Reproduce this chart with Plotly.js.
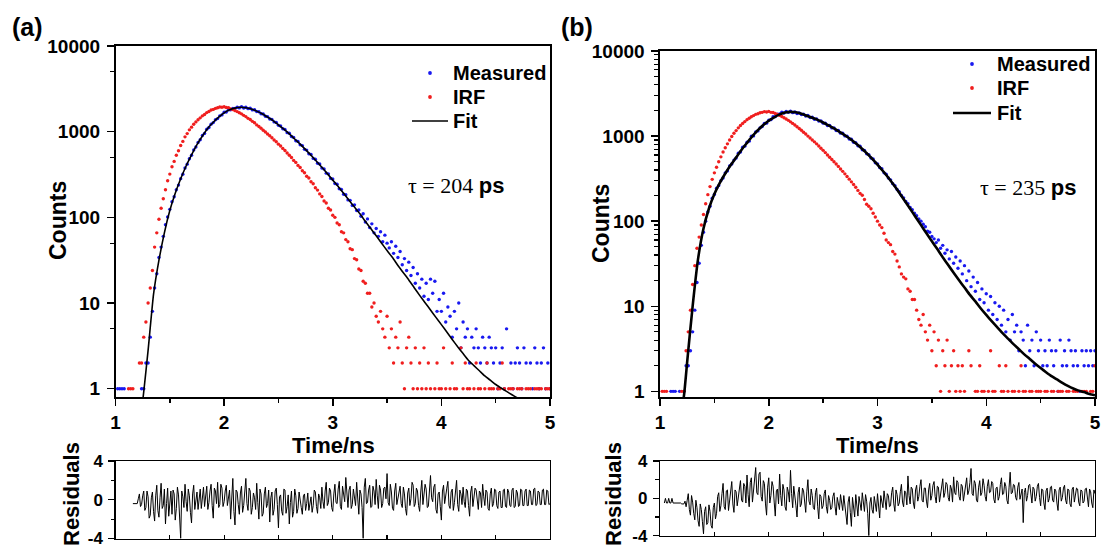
<!DOCTYPE html>
<html><head><meta charset="utf-8">
<script src="https://cdn.plot.ly/plotly-3.0.1.min.js"></script>
<style>html,body{margin:0;padding:0;background:#fff}#chart{width:1104px;height:548px}</style>
</head><body><div id="chart"></div>
<script>
// ---------- Panel (a) data (counts per 0.02 ns channel, starting at 1.00 ns) ----------
const measuredA = [
null,1,1,1,1,null,null,null,null,null,
null,null,1,1,2,2,4,8,15,22,
34,45,60,82,101,124,152,174,210,238,
283,318,377,418,484,530,612,662,748,805,
902,955,1068,1120,1225,1276,1380,1422,1530,1570,
1685,1698,1795,1802,1870,1862,1935,1896,1960,1890,
1930,1858,1880,1795,1802,1715,1712,1622,1610,1512,
1498,1405,1392,1300,1278,1185,1165,1080,1060,975,
958,878,858,785,770,702,688,622,610,552,
542,488,476,428,420,376,368,328,322,285,
280,248,244,216,212,186,184,160,158,138,
140,120,122,103,110,88,96,76,84,66,
74,60,68,52,62,50,44,52,38,46,
34,40,28,33,24,30,21,26,17,22,
15,19,12,17,11,19,13,18,8,11,
8,13,6,9,7,4,8,5,10,3,
6,4,5,2,4,3,5,3,2,4,
3,2,4,3,2,3,1,2,3,1,
5,null,2,1,2,3,2,1,3,2,
null,2,1,3,2,1,2,3,1,2,1];
const irfA = [
null,null,null,null,null,null,1,1,1,null,
null,2,2,4,6,10,15,24,45,66,
95,128,165,210,268,320,390,450,530,600,
690,770,870,950,1050,1130,1220,1300,1380,1450,
1530,1590,1670,1720,1790,1820,1870,1900,1940,1925,
1955,1915,1900,1845,1815,1760,1715,1660,1615,1550,
1500,1430,1385,1320,1270,1200,1150,1095,1040,990,
940,895,848,800,762,715,680,638,602,565,
530,500,462,438,404,382,350,332,302,288,
260,247,222,208,188,175,155,147,128,122,
106,100,86,82,68,66,55,52,43,42,
33,32,25,24,18,17,13,13,9,10,
7,6,8,5,4,7,3,5,2,4,
3,6,2,1,3,4,2,1,3,1,
2,1,3,1,2,1,null,1,2,1,
1,3,1,null,1,2,1,1,null,3,
1,2,1,1,null,1,2,1,1,null,
1,2,1,1,1,null,1,1,2,1,
null,1,1,1,null,1,1,1,null,1,
1,1,null,1,1,1,1,null,1,1,1];
const fitTimeA = [1.25,1.263,1.30,1.35,1.40,1.45,1.50,1.55,1.60,1.65,1.70,1.75,1.80,1.85,1.90,1.95,
2.00,2.05,2.10,2.15,2.20,2.25,2.30,2.35,2.40,2.45,2.50,2.55,2.60,2.65,2.70,2.75,2.80,2.85,2.90,2.95,
3.00,3.05,3.10,3.15,3.20,3.25,3.30,3.35,3.40,3.45,3.50,3.55,3.60,3.65,3.70,3.75,3.80,3.85,3.90,3.95,
4.00,4.05,4.10,4.15,4.20,4.25,4.30,4.35,4.40,4.45,4.50,4.55,4.60,4.65,4.70,4.75];
const fitA = [0.71,1.0,2.8,12.6,31.6,66,120,191,282,398,537,708,891,1096,1288,1479,
1660,1799,1884,1928,1905,1841,1738,1622,1479,1349,1202,1072,944,822,716,617,531,452,385,324,
272,229,191,158,132,110,90,74,61,50,41,34,27.5,22.6,18.6,15.1,12.3,10.1,8.3,6.8,
5.6,4.6,3.76,3.09,2.57,2.14,1.86,1.62,1.41,1.26,1.12,1.02,0.93,0.85,0.78,0.71];
// residuals (a): 0.01 ns channels starting at 1.16 ns
const residualsA = [
-0.4,-0.4,-0.4,-0.4,-0.4,0.1,0.6,-0.7,-0.5,0.4,0.9,-1.1,-0.8,0.9,0.3,-1.9,-1.6,0.2,0.8,-1.2,
-2.2,0.4,1.5,-1.1,-1.8,0.2,1.7,-0.9,-0.6,1.1,-2.5,-0.4,1.2,-1.7,-0.3,0.9,-1.5,1.0,0.6,-2.1,
-0.9,1.3,0.5,-1.6,-4.0,0.9,0.3,-0.8,1.6,-0.2,-1.2,1.1,0.4,-1.3,-2.4,0.6,1.5,-1.0,-0.2,0.8,
-1.0,0.5,1.1,-0.9,0.2,1.3,-0.7,0.6,1.4,-1.0,-0.3,0.9,1.6,-0.6,-1.9,1.2,0.9,-0.4,1.8,-0.8,
-0.5,1.6,1.2,-0.7,-0.2,0.9,1.5,-0.6,0.3,1.0,-2.0,0.4,2.2,-1.2,-2.6,1.0,0.8,-0.5,-1.5,0.7,
1.4,-1.3,-0.6,0.8,2.2,-0.4,-1.1,1.2,0.9,-1.5,-0.8,0.7,0.2,-1.0,1.7,-0.3,-2.0,1.1,0.6,-1.7,
-1.4,0.6,1.3,-0.8,-0.4,1.0,-2.3,0.2,0.8,-1.6,-1.0,0.9,1.2,-0.5,-2.9,0.3,0.5,-1.2,-1.6,1.1,
1.0,-1.4,-0.7,0.5,-2.5,-0.3,0.9,-1.8,-1.2,1.1,0.4,-1.4,-0.9,0.8,0.2,-0.8,-1.5,0.4,0.6,-1.1,
-0.4,0.7,-1.1,-0.2,0.3,-1.3,-0.6,1.0,0.8,-0.7,-1.4,0.6,0.2,-0.9,1.3,-0.2,-0.9,0.9,1.8,-0.6,
-0.3,1.2,0.9,-0.8,-1.2,0.6,1.6,-0.3,-0.4,1.1,1.9,-0.7,-1.0,1.4,0.7,-0.2,2.3,0.3,-0.8,1.0,
1.4,-0.9,-0.5,1.1,0.4,-0.6,1.8,0.2,-1.5,1.0,0.6,-0.8,-4.0,1.3,2.2,-0.4,-0.3,1.0,1.5,-0.8,
-0.7,1.4,0.9,-0.5,2.1,0.4,-0.9,1.5,1.0,-0.8,-0.4,1.2,1.3,0.1,2.7,-0.3,-0.6,1.6,0.8,-0.9,
-1.1,0.9,1.7,-0.5,0.2,1.1,1.4,-0.4,-0.8,1.3,0.6,-0.9,-1.6,0.7,1.2,-0.6,0.1,1.8,1.5,-0.7,
-0.4,1.2,0.9,-0.6,-1.2,0.8,2.0,-0.5,0.3,1.6,1.1,-0.8,-0.7,1.0,2.5,0.2,-0.2,1.3,1.6,-1.0,
-1.4,0.6,0.8,-0.7,-2.1,0.9,1.5,-0.4,0.2,1.2,1.9,-0.6,-0.9,0.8,1.1,-1.1,-0.3,1.2,2.0,-0.5,
-1.2,1.0,0.6,-0.5,1.3,-0.2,-0.8,1.1,0.9,-0.6,-1.7,0.8,1.4,-0.7,0.1,1.2,1.0,-0.4,-1.0,0.9,
0.7,-0.8,1.6,0.3,-0.6,1.0,0.8,-0.9,-1.1,0.6,1.2,-0.7,-0.4,1.1,1.0,-0.6,-0.9,0.8,0.9,-0.8,
-0.8,1.0,1.1,-0.7,-0.8,1.1,0.8,-0.6,-0.7,1.0,1.2,-0.8,-0.7,1.0,0.7,-0.7,-0.6,1.1,1.0,-0.6,
-0.6,0.9,1.1,-0.6,-0.6,1.0,0.9,-0.5,-0.5,1.1,1.2,-0.6,-0.5,0.9,0.8,-0.5,-0.5,1.0,1.1,-0.5,
-0.5,1.0,0.9,-0.5,-0.4];

// ---------- Panel (b) data ----------
const measuredB = [
null,null,null,null,null,1,1,1,null,1,
null,1,2,2,3,5,9,19,32,52,
74,100,128,150,186,206,244,262,300,322,
370,390,446,470,522,552,628,650,738,762,
848,872,995,1005,1115,1150,1250,1296,1405,1420,
1540,1560,1690,1695,1810,1815,1905,1870,1950,1900,
1960,1885,1920,1840,1870,1790,1805,1725,1745,1650,
1668,1575,1592,1500,1510,1420,1422,1330,1335,1248,
1250,1165,1162,1082,1080,1005,998,925,918,845,
836,768,758,692,680,620,606,552,538,486,
472,428,414,370,356,322,306,276,262,236,
222,200,188,170,160,145,136,124,116,106,
100,92,86,76,74,66,62,56,60,48,
52,42,46,36,44,32,38,28,34,24,
30,20,26,17,22,15,19,12,16,11,
14,9,13,8,11,7,10,6,9,5,
7,4,8,5,6,3,5,4,2,6,
3,4,2,5,3,4,2,3,2,4,
3,2,3,1,4,2,3,2,4,3,
2,3,2,1,3,2,3,2,3,2,3];
const irfB = [
null,1,1,1,null,null,null,null,null,null,
1,1,3,5,9,18,30,48,65,90,
120,160,205,255,310,370,430,500,570,650,
730,810,900,990,1080,1160,1250,1330,1410,1480,
1560,1620,1690,1740,1800,1830,1880,1900,1940,1920,
1950,1900,1890,1840,1800,1750,1700,1640,1590,1530,
1470,1410,1350,1290,1230,1170,1110,1060,1000,950,
900,855,810,765,720,680,640,600,565,530,
500,470,440,410,385,360,335,312,290,270,
250,230,212,202,180,158,150,140,124,112,
100,90,84,72,60,56,53,44,41,34,
29,24,22,21,16,15,12,12,9,7,
6,8,5,4,6,3,5,2,4,1,
3,2,4,1,2,3,1,2,1,2,
1,null,3,2,null,1,1,2,1,1,
null,1,3,1,1,null,2,1,1,2,
1,null,1,1,null,1,2,1,1,null,
1,1,null,1,1,1,null,1,1,null,
1,1,null,1,1,1,null,1,1,null,
1,1,1,null,1,1,1,null,1,1,2];
const fitTimeB = [1.20,1.225,1.25,1.30,1.35,1.40,1.45,1.50,1.55,1.60,1.65,1.70,1.75,1.80,1.85,1.90,1.95,
2.00,2.05,2.10,2.15,2.20,2.25,2.30,2.35,2.40,2.45,2.50,2.55,2.60,2.65,2.70,2.75,2.80,2.85,2.90,2.95,
3.00,3.05,3.10,3.15,3.20,3.25,3.30,3.35,3.40,3.45,3.50,3.55,3.60,3.65,3.70,3.75,3.80,3.85,3.90,3.95,
4.00,4.05,4.10,4.15,4.20,4.25,4.30,4.35,4.40,4.45,4.50,4.55,4.60,4.65,4.70,4.75,4.80,4.85,4.90,4.95,5.00];
const fitB = [0.56,1.0,2.24,10,36,82,141,209,282,363,457,562,692,832,1000,1175,1349,
1514,1660,1799,1897,1928,1905,1832,1738,1641,1549,1445,1334,1230,1122,1023,923,822,724,631,543,
462,389,324,266,216,174,140,112,90,72,58,47,37.6,30.5,24.8,20.2,16.6,13.6,11.4,9.4,
7.9,6.7,5.7,4.84,4.17,3.59,3.13,2.72,2.40,2.11,1.88,1.68,1.51,1.38,1.26,1.16,1.08,1.02,0.98,0.93,0.90];
// residuals (b): 0.01 ns channels starting at 1.04 ns
const residualsB = [
-0.5,0.0,-0.5,-0.5,0.0,-0.5,-0.5,0.0,-0.5,-0.5,-0.5,-0.5,-0.5,-0.5,-0.5,-0.5,-0.6,-0.6,-0.6,-0.3,
-0.9,-0.2,0.5,-1.2,-1.8,0.3,-0.4,-1.6,-2.3,-0.2,-1.0,-2.4,-3.0,-0.6,-1.2,-2.5,-3.8,-1.4,-0.9,-2.8,
-2.6,-0.7,-1.4,-2.9,-3.2,-1.0,-0.5,-2.2,-1.6,0.2,0.6,-1.4,-0.8,0.5,1.6,-0.9,-1.2,0.8,0.9,-1.3,
-0.3,1.0,1.8,-0.6,-1.5,0.9,0.7,-0.8,0.2,1.4,1.9,-0.2,-0.4,1.6,1.3,-0.5,2.5,0.4,-0.9,1.7,
2.2,-0.4,1.0,2.4,3.3,0.6,0.4,2.6,2.8,0.2,-0.3,1.9,1.6,-0.6,-1.8,1.2,2.2,-0.5,0.3,1.8,
1.3,-0.4,-1.9,0.8,1.0,-0.6,2.6,0.3,-0.8,1.5,0.9,-0.9,-1.3,1.2,0.7,-0.4,3.0,0.5,-1.0,1.3,
0.5,-0.8,-2.0,0.6,1.2,-0.9,-0.6,1.1,0.8,-0.7,-1.5,0.7,2.0,-0.3,-0.7,1.0,0.3,-1.0,-1.2,0.6,
1.1,-0.9,-2.2,0.4,0.2,-1.1,-0.8,0.5,0.9,-0.9,-1.6,0.3,-0.2,-1.2,-1.0,0.2,0.6,-0.9,-1.8,0.1,
-0.4,-1.2,0.4,-0.5,-1.3,0.3,-0.6,-1.7,-2.8,-0.4,0.2,-1.5,-3.0,0.1,-0.9,-2.0,0.4,-0.8,-1.9,0.2,
-0.5,-1.3,0.6,-0.7,-1.4,0.4,-0.3,-1.6,-4.0,-0.5,0.1,-1.2,-1.6,0.2,-0.6,-1.4,0.5,-0.6,-2.1,0.3,
-0.4,-1.0,0.8,-0.3,-1.2,0.5,0.3,-0.9,-0.8,0.6,1.2,-0.6,-1.4,0.9,0.4,-0.8,-0.5,0.7,1.5,-0.4,
-0.9,0.8,0.6,-0.7,2.4,0.3,-0.6,1.2,1.0,-0.5,-1.1,0.9,1.4,-0.3,0.2,1.3,2.0,-0.2,-0.4,1.1,
1.1,-0.3,-1.0,0.9,1.6,-0.2,0.3,1.4,1.8,0.2,-0.5,1.3,1.2,-0.4,0.4,1.6,2.1,0.1,0.6,1.7,
1.5,0.1,-0.3,1.4,1.0,-0.4,2.3,0.6,0.4,1.9,1.7,0.2,-0.2,1.5,1.3,-0.3,0.5,1.6,2.2,0.4,
0.8,1.7,3.2,0.5,0.3,1.9,1.6,-0.2,-0.4,1.2,1.9,0.3,0.6,2.1,1.4,0.2,-0.3,1.3,2.0,0.6,
0.7,1.8,1.6,-0.1,-0.5,1.1,1.2,-0.2,0.2,1.5,2.2,0.4,0.5,1.7,1.3,-0.2,-0.6,1.2,2.8,0.5,
0.6,1.5,1.4,0.1,-0.2,1.2,1.7,-0.1,0.4,1.0,-2.6,0.6,1.1,-0.3,0.3,1.4,1.5,0.2,-0.5,1.2,
1.0,-0.3,0.2,1.3,1.6,0.1,-0.8,1.0,0.9,-0.5,-1.2,0.8,1.1,-0.4,0.0,1.2,1.3,-0.2,-0.4,1.0,
0.8,-0.5,-1.3,0.9,1.2,-0.3,0.1,1.1,1.4,-0.2,-0.6,1.0,0.9,-0.6,-0.9,1.0,1.2,-0.4,0.2,1.1,
1.0,-0.4,-0.8,0.9,0.8,-0.5,-0.3,1.0,1.1,-0.2,-0.9,1.0,0.7,-0.5,-1.0,0.9,0.5];

const timeTickVals = [1,2,3,4,5];
const timeTickText = ['1','2','3','4','5'];
const countTickVals = [1,10,100,1000,10000];
const countTickText = ['1','10','100','1000','10000'];
const residualTickVals = [-4,0,4];
const residualTickText = ['-4','0','4'];
const lifetimeLabels = ['τ = 204 ', 'τ = 235 '];
const seriesNames = ['Measured','IRF','Fit'];

// uniform channel time axis
function channelTimes(n, start, step){ return Array.from({length:n}, (_, i) => +(start + step*i).toFixed(3)); }

const SANS = 'Liberation Sans, Arial, sans-serif';
const BLUE = 'rgb(25,25,240)', RED = 'rgb(240,30,30)';
const W = 1104, H = 548;
const px = v => v / W, py = v => 1 - v / H;

const traces = [
  {x: channelTimes(measuredA.length, 1.0, 0.02), y: measuredA, type:'scatter', mode:'markers', name:seriesNames[0],
   marker:{color:BLUE, size:3.4}, xaxis:'x', yaxis:'y'},
  {x: channelTimes(irfA.length, 1.0, 0.02), y: irfA, type:'scatter', mode:'markers', name:seriesNames[1],
   marker:{color:RED, size:3.4}, xaxis:'x', yaxis:'y'},
  {x: fitTimeA, y: fitA, type:'scatter', mode:'lines', name:seriesNames[2],
   line:{color:'#000', width:1.6, shape:'spline', smoothing:0.5}, xaxis:'x', yaxis:'y'},
  {x: channelTimes(residualsA.length, 1.16, 0.01), y: residualsA, type:'scatter', mode:'lines', name:'Residuals (a)',
   line:{color:'#000', width:1.0}, xaxis:'x2', yaxis:'y2'},
  {x: channelTimes(measuredB.length, 1.0, 0.02), y: measuredB, type:'scatter', mode:'markers', name:seriesNames[0],
   marker:{color:BLUE, size:3.4}, xaxis:'x3', yaxis:'y3'},
  {x: channelTimes(irfB.length, 1.0, 0.02), y: irfB, type:'scatter', mode:'markers', name:seriesNames[1],
   marker:{color:RED, size:3.4}, xaxis:'x3', yaxis:'y3'},
  {x: fitTimeB, y: fitB, type:'scatter', mode:'lines', name:seriesNames[2],
   line:{color:'#000', width:2.6, shape:'spline', smoothing:0.5}, xaxis:'x3', yaxis:'y3'},
  {x: channelTimes(residualsB.length, 1.04, 0.01), y: residualsB, type:'scatter', mode:'lines', name:'Residuals (b)',
   line:{color:'#000', width:1.0}, xaxis:'x4', yaxis:'y4'}
];

const tickFont = {family:SANS, size:19, color:'#000', weight:700};
const lineStyle = {showline:true, linecolor:'#000', linewidth:1.6, mirror:true, showgrid:false, zeroline:false};

function timeAxis(domain, anchor){
  return Object.assign({domain, anchor, range:[1,5], tickmode:'array', tickvals:timeTickVals, ticktext:timeTickText,
    ticks:'outside', ticklen:7, tickwidth:1.5, tickcolor:'#000', tickfont:tickFont,
    minor:{tickmode:'array', tickvals:[1.5,2.5,3.5,4.5], ticks:'outside', ticklen:4, tickwidth:1.5, tickcolor:'#000'}}, lineStyle);
}
function countAxis(domain, anchor, lo, minorVals){
  return Object.assign({domain, anchor, type:'log', range:[lo,4], tickmode:'array', tickvals:countTickVals, ticktext:countTickText,
    ticks:'outside', ticklen:7, tickwidth:1.5, tickcolor:'#000', tickfont:tickFont, ticklabelstandoff:3,
    minor:{tickmode:'array', tickvals:minorVals, ticks:'outside', ticklen:4, tickwidth:1.2, tickcolor:'#000'}}, lineStyle);
}
function resXAxis(domain, anchor){
  return Object.assign({domain, anchor, range:[1,5], dtick:0.5, tick0:1, ticks:'inside', ticklen:4, tickwidth:1.2,
    tickcolor:'#000', showticklabels:false}, lineStyle, {linewidth:1.2});
}
function resYAxis(domain, anchor){
  return Object.assign({domain, anchor, range:[-4,4], tickmode:'array', tickvals:residualTickVals, ticktext:residualTickText,
    ticks:'outside', ticklen:6, tickwidth:1.2, tickcolor:'#000', tickfont:{family:SANS, size:17, color:'#000', weight:700},
    ticklabelstandoff:2, ticklabeloverflow:'allow',
    minor:{tickmode:'array', tickvals:[-2,2], ticks:'outside', ticklen:3.5, tickwidth:1.2, tickcolor:'#000'}}, lineStyle, {linewidth:1.2});
}

const minorA = [5,50,500,5000];
const minorB = [];
[1,10,100,1000].forEach(d => { for (let k=2;k<=9;k++) minorB.push(k*d); });

const xA = [px(115.5), px(550)], xB = [px(660), px(1095)];
const titleFont = {family:SANS, size:23, color:'#000', weight:700};
const legendFont = {family:SANS, size:20, color:'#000', weight:700};

function ann(text, x, y, font, extra){ return Object.assign({text, x:px(x), y:py(y), xref:'paper', yref:'paper', showarrow:false, font, xanchor:'center', yanchor:'middle'}, extra||{}); }
function legendText(text, x, y){ return ann(text, x, y, legendFont, {xanchor:'left'}); }
function dot(cx, cy, color){ const r = 1.9; return {type:'circle', xref:'paper', yref:'paper', x0:px(cx-r), x1:px(cx+r), y0:py(cy+r), y1:py(cy-r), fillcolor:color, line:{width:0}}; }
function legendLine(x0, x1, y, w){ return {type:'line', xref:'paper', yref:'paper', x0:px(x0), x1:px(x1), y0:py(y), y1:py(y), line:{color:'#000', width:w}}; }

const layout = {
  width:W, height:H, margin:{l:0,r:0,t:0,b:0, autoexpand:false},
  paper_bgcolor:'#fff', plot_bgcolor:'#fff', showlegend:false,
  xaxis: timeAxis(xA, 'y'),
  yaxis: countAxis([py(397.3), py(46)], 'x', -0.1, minorA),
  xaxis2: resXAxis(xA, 'y2'),
  yaxis2: resYAxis([py(538.5), py(461)], 'x2'),
  xaxis3: timeAxis(xB, 'y3'),
  yaxis3: countAxis([py(397.3), py(51)], 'x3', -0.07, minorB),
  xaxis4: resXAxis(xB, 'y4'),
  yaxis4: resYAxis([py(535.7), py(461)], 'x4'),
  shapes: [
    dot(430, 73, BLUE), dot(430, 97, RED), legendLine(412, 448, 121, 1.6),
    dot(972, 64, BLUE), dot(972, 88, RED), legendLine(953, 991, 113, 2.6)
  ],
  annotations: [
    legendText(seriesNames[0], 451, 73), legendText(seriesNames[1], 451, 97), legendText(seriesNames[2], 451, 121),
    legendText(seriesNames[0], 995, 64), legendText(seriesNames[1], 995, 88), legendText(seriesNames[2], 995, 113),
    ann('(a)', 27, 27, {family:SANS, size:25, color:'#000', weight:700}),
    ann('(b)', 577, 27, {family:SANS, size:25, color:'#000', weight:700}),
    ann('Counts', 58, 221, titleFont, {textangle:-90}),
    ann('Counts', 601, 224, titleFont, {textangle:-90}),
    ann('Time/ns', 333, 445, {family:SANS, size:22, color:'#000', weight:700}),
    ann('Time/ns', 877, 445, {family:SANS, size:22, color:'#000', weight:700}),
    ann('Residuals', 71, 494, {family:SANS, size:22, color:'#000', weight:700}, {textangle:-90}),
    ann('Residuals', 613, 494, {family:SANS, size:22, color:'#000', weight:700}, {textangle:-90}),
    ann('<span style="font-family:\'Liberation Serif\',serif;font-weight:400">' + lifetimeLabels[0] + '</span>ps', 456, 185,
        {family:SANS, size:22, color:'#000', weight:700}),
    ann('<span style="font-family:\'Liberation Serif\',serif;font-weight:400">' + lifetimeLabels[1] + '</span>ps', 1028, 187,
        {family:SANS, size:22, color:'#000', weight:700})
  ]
};

Plotly.newPlot('chart', traces, layout, {displayModeBar:false, staticPlot:true});
</script></body></html>
